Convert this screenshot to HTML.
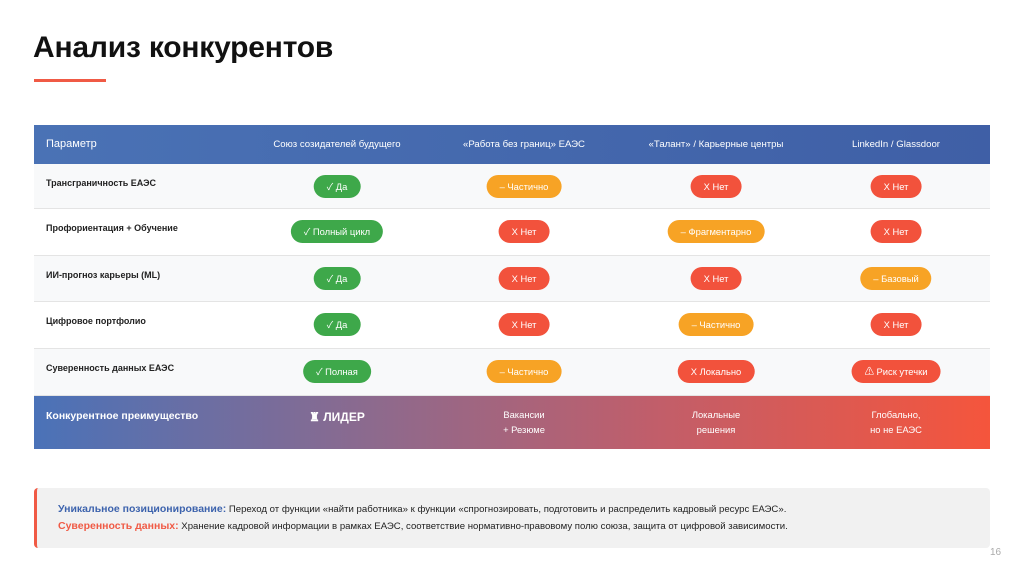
<!DOCTYPE html>
<html><head><meta charset="utf-8">
<style>
*{margin:0;padding:0;box-sizing:border-box}
body{width:1024px;height:574px;background:#fff;font-family:"Liberation Sans","Noto Sans CJK SC",sans-serif;position:relative;overflow:hidden}
.abs{position:absolute}
.title{left:33px;top:31px;font-size:30px;font-weight:bold;color:#111;letter-spacing:-0.2px}
.uline{left:34px;top:79px;width:72px;height:3px;background:#f05a45}
.hdr{left:34px;top:125px;width:956px;height:39px;background:linear-gradient(90deg,#4a72b5,#3f5fa6)}
.hcell{position:absolute;top:0;height:39px;line-height:39px;color:#fff;font-size:9.6px;transform:translateX(-50%);white-space:nowrap}
.row{position:absolute;left:34px;width:956px;border-bottom:1px solid #e4e4e4}
.plabel{position:absolute;left:12px;top:14px;font-size:9px;font-weight:bold;color:#222;white-space:nowrap}
.pill{position:absolute;top:11px;height:23px;line-height:23px;border-radius:12px;color:#fff;font-size:9.4px;padding:0 13px;transform:translateX(-50%);white-space:nowrap}
.g{background:#3ea84a}.o{background:#f7a325}.r{background:#f2523c}
.last{left:34px;top:396px;width:956px;height:53px;background:linear-gradient(90deg,#4a72b8,#8c6a8e 35%,#c15e6a 65%,#f5553c)}
.lc{position:absolute;color:#fff;font-size:9.4px;text-align:center;transform:translateX(-50%);line-height:15px;white-space:nowrap}
.note{left:34px;top:488px;width:956px;height:60px;background:#f1f1f1;border-left:3px solid #f05a45;border-radius:4px}
.nl{position:absolute;left:21px;font-size:9.6px;color:#222;white-space:nowrap}
</style></head><body>
<div class="abs title">Анализ конкурентов</div>
<div class="abs uline"></div>

<div class="abs hdr">
<div class="hcell" style="left:12px;transform:none;font-size:11px">Параметр</div>
<div class="hcell" style="left:303px">Союз созидателей будущего</div>
<div class="hcell" style="left:490px">«Работа без границ» ЕАЭС</div>
<div class="hcell" style="left:682px">«Талант» / Карьерные центры</div>
<div class="hcell" style="left:862px">LinkedIn / Glassdoor</div>
</div>

<div class="row" style="top:164px;height:45px;background:#f8f9fa">
<div class="plabel">Трансграничность ЕАЭС</div>
<div class="pill g" style="left:303px">✓ Да</div>
<div class="pill o" style="left:490px">– Частично</div>
<div class="pill r" style="left:682px">Χ Нет</div>
<div class="pill r" style="left:862px">Χ Нет</div>
</div>
<div class="row" style="top:209px;height:47px;background:#fff">
<div class="plabel">Профориентация + Обучение</div>
<div class="pill g" style="left:303px">✓ Полный цикл</div>
<div class="pill r" style="left:490px">Χ Нет</div>
<div class="pill o" style="left:682px">– Фрагментарно</div>
<div class="pill r" style="left:862px">Χ Нет</div>
</div>
<div class="row" style="top:256px;height:46px;background:#f8f9fa">
<div class="plabel">ИИ-прогноз карьеры (ML)</div>
<div class="pill g" style="left:303px">✓ Да</div>
<div class="pill r" style="left:490px">Χ Нет</div>
<div class="pill r" style="left:682px">Χ Нет</div>
<div class="pill o" style="left:862px">– Базовый</div>
</div>
<div class="row" style="top:302px;height:47px;background:#fff">
<div class="plabel">Цифровое портфолио</div>
<div class="pill g" style="left:303px">✓ Да</div>
<div class="pill r" style="left:490px">Χ Нет</div>
<div class="pill o" style="left:682px">– Частично</div>
<div class="pill r" style="left:862px">Χ Нет</div>
</div>
<div class="row" style="top:349px;height:47px;background:#f8f9fa">
<div class="plabel">Суверенность данных ЕАЭС</div>
<div class="pill g" style="left:303px">✓ Полная</div>
<div class="pill o" style="left:490px">– Частично</div>
<div class="pill r" style="left:682px">Χ Локально</div>
<div class="pill r" style="left:862px">⚠ Риск утечки</div>
</div>

<div class="abs last">
<div class="lc" style="left:12px;top:13px;transform:none;font-size:10.5px;font-weight:bold">Конкурентное преимущество</div>
<div class="lc" style="left:303px;top:14px;font-size:12px;font-weight:bold">♜ ЛИДЕР</div>
<div class="lc" style="left:490px;top:11px">Вакансии<br>+ Резюме</div>
<div class="lc" style="left:682px;top:11px">Локальные<br>решения</div>
<div class="lc" style="left:862px;top:11px">Глобально,<br>но не ЕАЭС</div>
</div>

<div class="abs note">
<div class="nl" style="top:15px"><b style="color:#3d63ad;font-size:10.5px">Уникальное позиционирование:</b> Переход от функции «найти работника» к функции «спрогнозировать, подготовить и распределить кадровый ресурс ЕАЭС».</div>
<div class="nl" style="top:32px"><b style="color:#f05a45;font-size:10.5px">Суверенность данных:</b> Хранение кадровой информации в рамках ЕАЭС, соответствие нормативно-правовому полю союза, защита от цифровой зависимости.</div>
</div>
<div class="abs" style="left:990px;top:547px;font-size:10px;color:#aaa">16</div>
</body></html>
